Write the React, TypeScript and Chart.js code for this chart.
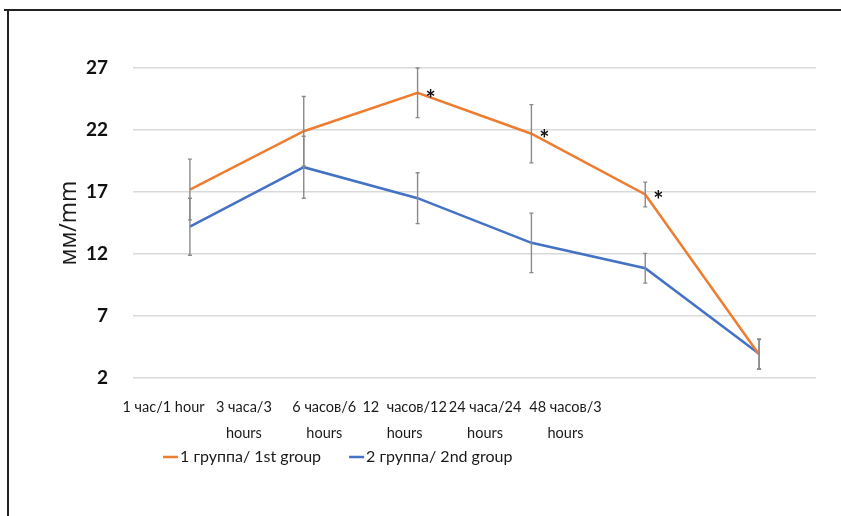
import React, { useEffect, useRef } from "react";
import { Chart, registerables } from "chart.js";

Chart.register(...registerables);

const CATEGORIES: string[][] = [
  ["1 час/1 hour"],
  ["3 часа/3", "hours"],
  ["6 часов/6", "hours"],
  ["12  часов/12", "hours"],
  ["24 часа/24", "hours"],
  ["48 часов/3", "hours"],
];
const GROUP1_LABEL = "1 группа/ 1st group";
const GROUP2_LABEL = "2 группа/ 2nd group";
const GROUP1 = [17.2, 21.9, 25.0, 21.7, 16.8, 3.9];
const GROUP2 = [14.2, 19.0, 16.5, 12.9, 10.85, 3.95];
const GROUP1_ERR = [2.45, 2.8, 2.0, 2.35, 1.0, 1.2];
const GROUP2_ERR = [2.3, 2.5, 2.05, 2.4, 1.2, 1.2];
const GROUP1_SIG = [false, false, true, true, true, false];
const Y_TICKS = [2, 7, 12, 17, 22, 27];
const Y_TITLE = "мм/mm";

const ORANGE = "#ED7D31";
const BLUE = "#4472C4";
const FONT = "Lato, 'Open Sans', sans-serif";

const errorBars = {
  id: "errorBars",
  afterDatasetsDraw(chart: any) {
    const ctx = chart.ctx;
    const y = chart.scales.y;
    const sets = [
      { values: GROUP1, errs: GROUP1_ERR, meta: chart.getDatasetMeta(0) },
      { values: GROUP2, errs: GROUP2_ERR, meta: chart.getDatasetMeta(1) },
    ];
    ctx.save();
    ctx.strokeStyle = "#8a8a8a";
    ctx.lineWidth = 1.4;
    for (const s of sets) {
      s.values.forEach((v, i) => {
        const px = s.meta.data[i].x;
        const top = y.getPixelForValue(v + s.errs[i]);
        const bot = y.getPixelForValue(v - s.errs[i]);
        ctx.beginPath();
        ctx.moveTo(px, top);
        ctx.lineTo(px, bot);
        ctx.moveTo(px - 2, top);
        ctx.lineTo(px + 2, top);
        ctx.moveTo(px - 2, bot);
        ctx.lineTo(px + 2, bot);
        ctx.stroke();
      });
    }
    const meta = chart.getDatasetMeta(0);
    ctx.fillStyle = "#111";
    ctx.font = `bold 24px ${FONT}`;
    ctx.textAlign = "center";
    ctx.textBaseline = "middle";
    GROUP1_SIG.forEach((sig, i) => {
      if (!sig) return;
      const p = meta.data[i];
      ctx.fillText("*", p.x + 13, p.y + 7);
    });
    ctx.restore();
  },
};

const customLegend = {
  id: "customLegend",
  afterDraw(chart: any) {
    const ctx = chart.ctx;
    const area = chart.chartArea;
    const yy = area.bottom + 79;
    let x = area.left + 30;
    const items = [
      { label: GROUP1_LABEL, color: ORANGE },
      { label: GROUP2_LABEL, color: BLUE },
    ];
    ctx.save();
    ctx.font = `16px ${FONT}`;
    ctx.textBaseline = "middle";
    ctx.textAlign = "left";
    items.forEach((it) => {
      ctx.strokeStyle = it.color;
      ctx.lineWidth = 2.5;
      ctx.beginPath();
      ctx.moveTo(x, yy);
      ctx.lineTo(x + 15, yy);
      ctx.stroke();
      ctx.fillStyle = "#1a1a1a";
      ctx.fillText(it.label, x + 17, yy);
      x += 17 + ctx.measureText(it.label).width + 28;
    });
    ctx.restore();
  },
};

export default function App() {
  const ref = useRef<HTMLCanvasElement | null>(null);
  useEffect(() => {
    if (!ref.current) return;
    const chart = new Chart(ref.current, {
      type: "line",
      data: {
        labels: CATEGORIES.map((c) => c.join(" ")),
        datasets: [
          {
            label: GROUP1_LABEL,
            data: GROUP1,
            borderColor: ORANGE,
            backgroundColor: ORANGE,
            borderWidth: 2.5,
            pointRadius: 0,
            tension: 0,
            xAxisID: "x",
            yAxisID: "y",
          },
          {
            label: GROUP2_LABEL,
            data: GROUP2,
            borderColor: BLUE,
            backgroundColor: BLUE,
            borderWidth: 2.5,
            pointRadius: 0,
            tension: 0,
            xAxisID: "x",
            yAxisID: "y",
          },
        ],
      },
      options: {
        animation: false,
        responsive: false,
        maintainAspectRatio: false,
        layout: { padding: { top: 68, right: 25, left: 0, bottom: 0 } },
        plugins: {
          legend: { display: false },
          tooltip: { enabled: false },
        },
        scales: {
          x: {
            type: "category",
            offset: true,
            display: false,
          },
          xl: {
            type: "linear",
            position: "bottom",
            min: -0.379,
            max: 8.116,
            grid: { display: false, drawTicks: false },
            border: { display: false },
            afterBuildTicks: (axis: any) => {
              axis.ticks = CATEGORIES.map((_, i) => ({ value: i }));
            },
            afterFit: (axis: any) => {
              axis.height = 138;
            },
            ticks: {
              autoSkip: false,
              maxRotation: 0,
              minRotation: 0,
              padding: 16,
              color: "#1a1a1a",
              font: { family: FONT, size: 14.5, lineHeight: 1.8 },
              callback: (v: any) => CATEGORIES[Math.round(Number(v))] ?? "",
            },
          },
          y: {
            type: "linear",
            min: Y_TICKS[0],
            max: Y_TICKS[Y_TICKS.length - 1],
            afterBuildTicks: (axis: any) => {
              axis.ticks = Y_TICKS.map((v) => ({ value: v }));
            },
            afterFit: (axis: any) => {
              axis.width = 133;
            },
            grid: { color: "#d9d9d9", lineWidth: 1.5, drawTicks: false },
            border: { display: false },
            ticks: {
              padding: 25,
              color: "#111",
              font: { family: FONT, size: 19, weight: "bold" },
            },
            title: {
              display: true,
              text: Y_TITLE,
              color: "#1a1a1a",
              font: { family: "'Open Sans', sans-serif", size: 23 },
              padding: { top: 56, bottom: 0 },
            },
          },
        },
      },
      plugins: [errorBars, customLegend],
    } as any);
    return () => chart.destroy();
  }, []);

  return (
    <div style={{ position: "absolute", left: 0, top: 0, width: 841, height: 516, background: "#fff", overflow: "hidden" }}>
      <canvas ref={ref} width={841} height={516} style={{ position: "absolute", left: 0, top: 0, width: 841, height: 516 }} />
      <div style={{ position: "absolute", left: 4, top: 9, width: 837, height: 2, background: "#222" }} />
      <div style={{ position: "absolute", left: 7, top: 9, width: 2, height: 507, background: "#222" }} />
    </div>
  );
}
